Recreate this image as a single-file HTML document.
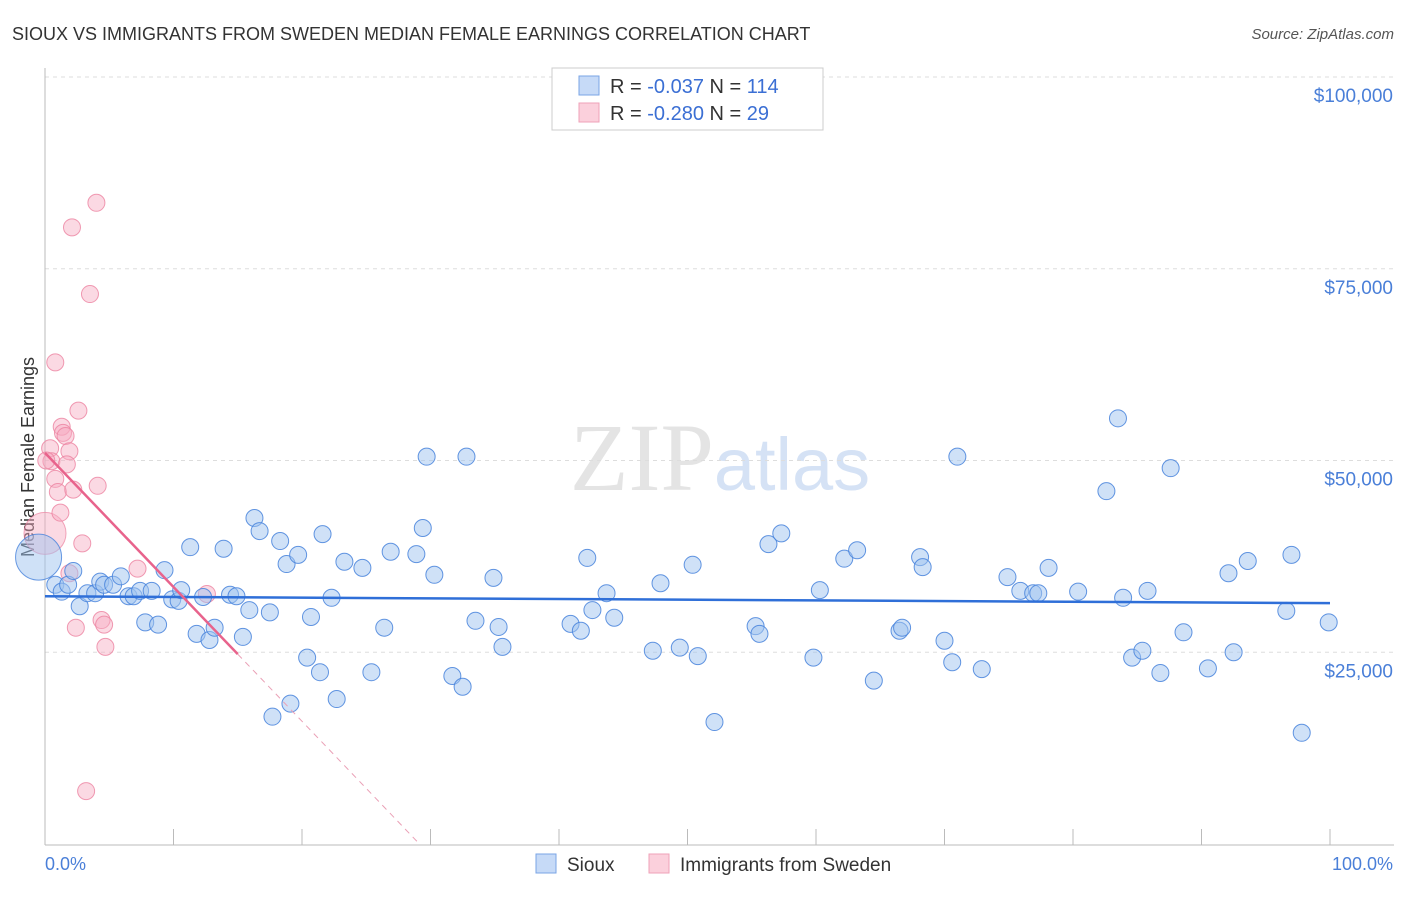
<!DOCTYPE html>
<html><head><meta charset="utf-8"><style>
body{margin:0;background:#fff;font-family:"Liberation Sans",sans-serif;}
</style></head><body>
<svg width="1406" height="892" xmlns="http://www.w3.org/2000/svg" font-family="Liberation Sans, sans-serif">
<text x="12" y="40" font-size="18" fill="#333">SIOUX VS IMMIGRANTS FROM SWEDEN MEDIAN FEMALE EARNINGS CORRELATION CHART</text>
<text x="1394" y="39" font-size="15" fill="#555" text-anchor="end" font-style="italic">Source: ZipAtlas.com</text>
<text x="720" y="490" font-size="96" text-anchor="middle" fill="#e4e4e4" font-family="Liberation Serif, serif">ZIP<tspan fill="#d5e2f5" font-family="Liberation Sans, sans-serif" font-size="74">atlas</tspan></text>
<g id="grid"></g>
<g id="axes"></g>
<text transform="translate(34,457) rotate(-90)" font-size="18" fill="#333" text-anchor="middle">Median Female Earnings</text>
<text x="45" y="870" font-size="18" fill="#4a7fd8">0.0%</text>
<text x="1393" y="870" font-size="18" fill="#4a7fd8" text-anchor="end">100.0%</text>
<g id="pts"></g>
<g id="lines"></g>
<g>
<rect x="552" y="68" width="271" height="62" fill="#fff" stroke="#ccc"/>
<rect x="579" y="76" width="20" height="19" fill="#c6daf7" stroke="#7aa4e6"/>
<rect x="579" y="103" width="20" height="19" fill="#fbd0dc" stroke="#efa2b8"/>
<text x="610" y="93" font-size="20" fill="#333">R = <tspan fill="#3b6fd4">-0.037</tspan>   N = <tspan fill="#3b6fd4">114</tspan></text>
<text x="610" y="120" font-size="20" fill="#333">R = <tspan fill="#3b6fd4">-0.280</tspan>   N =  <tspan fill="#3b6fd4"> 29</tspan></text>
</g>
<g>
<rect x="536" y="854" width="20" height="19" fill="#c6daf7" stroke="#7aa4e6"/>
<text x="567" y="871" font-size="19" fill="#333">Sioux</text>
<rect x="649" y="854" width="20" height="19" fill="#fbd0dc" stroke="#efa2b8"/>
<text x="680" y="871" font-size="19" fill="#333">Immigrants from Sweden</text>
</g>
</svg>
<script>
const yTicks=[25000,50000,75000,100000];
const yTickLabels=["$25,000","$50,000","$75,000","$100,000"];
const siouxX=[0.8,1.3,1.8,2.2,2.7,3.3,3.9,4.3,4.6,5.3,5.9,6.5,6.9,7.4,7.8,8.3,8.8,9.3,9.9,10.4,10.6,11.3,11.8,12.3,12.8,13.2,13.9,14.4,14.9,15.4,15.9,16.3,16.7,17.5,17.7,18.3,18.8,19.1,19.7,20.4,20.7,21.4,21.6,22.3,22.7,23.3,24.7,25.4,26.4,26.9,28.9,29.4,29.7,30.3,31.7,32.5,32.8,33.5,34.9,35.3,35.6,40.9,41.7,42.2,42.6,43.7,44.3,47.3,47.9,49.4,50.4,50.8,52.1,55.3,55.6,56.3,57.3,59.8,60.3,62.2,63.2,64.5,66.5,66.7,68.1,68.3,70.0,70.6,71.0,72.9,74.9,75.9,76.9,77.3,78.1,80.4,82.6,83.5,83.9,84.6,85.4,85.8,86.8,87.6,88.6,90.5,92.1,92.5,93.6,96.6,97.0,97.8,99.9];
const siouxY=[33.8,32.9,33.8,35.6,31.0,32.7,32.7,34.2,33.8,33.8,34.9,32.3,32.3,33.0,28.9,33.0,28.6,35.7,31.9,31.7,33.1,38.7,27.4,32.2,26.6,28.2,38.5,32.5,32.3,27.0,30.5,42.5,40.8,30.2,16.6,39.5,36.5,18.3,37.7,24.3,29.6,22.4,40.4,32.1,18.9,36.8,36.0,22.4,28.2,38.1,37.8,41.2,50.5,35.1,21.9,20.5,50.5,29.1,34.7,28.3,25.7,28.7,27.8,37.3,30.5,32.7,29.5,25.2,34.0,25.6,36.4,24.5,15.9,28.4,27.4,39.1,40.5,24.3,33.1,37.2,38.3,21.3,27.8,28.2,37.4,36.1,26.5,23.7,50.5,22.8,34.8,33.0,32.7,32.7,36.0,32.9,46.0,55.5,32.1,24.3,25.2,33.0,22.3,49.0,27.6,22.9,35.3,25.0,36.9,30.4,37.7,14.5,28.9];
const swedenX=[0.8,2.1,4.0,3.5,2.6,1.3,1.4,1.6,0.4,1.9,0.5,1.7,0.8,1.0,2.2,4.1,1.2,2.9,1.9,7.2,12.6,2.4,4.4,4.6,4.7,3.2,0.1];
const swedenY=[62.8,80.4,83.6,71.7,56.5,54.4,53.6,53.2,51.6,51.2,49.9,49.5,47.6,45.9,46.2,46.7,43.2,39.2,35.3,35.9,32.6,28.2,29.2,28.6,25.7,6.9,50.0];
const siouxTrend=[32.3,31.4];
const swedenTrend=[51.0,-1.75];
const NS="http://www.w3.org/2000/svg";
const X0=45,X1=1330,Y0=844,PXK=7.67;
function sx(p){return X0+(X1-X0)*p/100;}
function sy(k){return Y0-k*PXK;}
function mk(t,a,parent){const e=document.createElementNS(NS,t);for(const k in a)e.setAttribute(k,a[k]);parent.appendChild(e);return e;}
const grid=document.getElementById('grid');
yTicks.forEach((v,i)=>{
 const g=mk('line',{x1:45,x2:1394,y1:sy(v/1000),y2:sy(v/1000),stroke:'#ddd','stroke-dasharray':'4,4'},grid);
 
 
 const t=mk('text',{x:1393,y:sy(v/1000)+25,'font-size':19,fill:'#4a7fd8','text-anchor':'end'},grid);
 t.textContent=yTickLabels[i];
 
 
});
const axes=document.getElementById('axes');
const al=mk('line',{x1:45,x2:45,y1:68,y2:845,stroke:'#bbb'},axes);


const bl=mk('line',{x1:45,x2:1394,y1:845,y2:845,stroke:'#bbb'},axes);


for(let i=1;i<=10;i++){const t=mk('line',{x1:sx(i*10),x2:sx(i*10),y1:829,y2:845,stroke:'#bbb'},axes);
 
 }
const pts=document.getElementById('pts');
const big1=mk('circle',{cx:sx(0),cy:sy(40.5),r:21,fill:'rgba(246,170,192,0.45)',stroke:'rgba(236,130,160,0.7)'},pts);


swedenX.forEach((x,i)=>{const c=mk('circle',{cx:sx(x),cy:sy(swedenY[i]),r:8.5,fill:'rgba(246,170,192,0.45)',stroke:'rgba(236,130,160,0.8)'},pts);
 
 });
const big2=mk('circle',{cx:sx(-0.5),cy:sy(37.4),r:23,fill:'rgba(160,195,240,0.5)',stroke:'rgba(70,130,220,0.8)'},pts);


siouxX.forEach((x,i)=>{const c=mk('circle',{cx:sx(x),cy:sy(siouxY[i]),r:8.5,fill:'rgba(160,195,240,0.5)',stroke:'rgba(70,130,220,0.85)'},pts);
 
 });
const lines=document.getElementById('lines');
const l1=mk('line',{x1:sx(0),y1:sy(siouxTrend[0]),x2:sx(100),y2:sy(siouxTrend[1]),stroke:'#2f6fd8','stroke-width':2.5},lines);


const xe=15,xz=-swedenTrend[0]/swedenTrend[1];
const l2=mk('line',{x1:sx(0),y1:sy(swedenTrend[0]),x2:sx(xe),y2:sy(swedenTrend[0]+swedenTrend[1]*xe),stroke:'#e8638c','stroke-width':2.5},lines);


const l3=mk('line',{x1:sx(xe),y1:sy(swedenTrend[0]+swedenTrend[1]*xe),x2:sx(xz),y2:sy(0),stroke:'#eaa0b6','stroke-width':1,'stroke-dasharray':'6,5'},lines);


</script>
</body></html>
